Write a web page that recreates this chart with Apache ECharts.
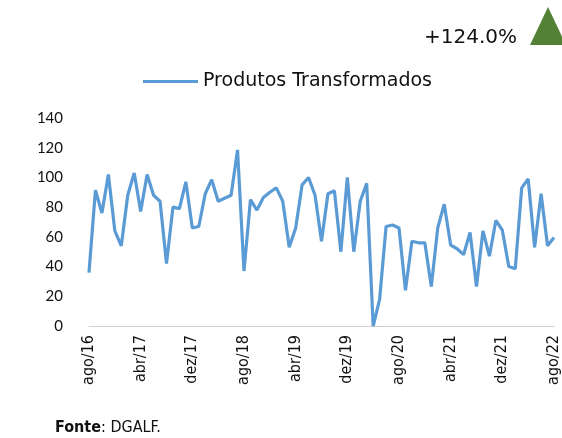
<!DOCTYPE html>
<html>
<head>
<meta charset="utf-8">
<style>html,body{margin:0;padding:0;background:#fff;}#c{width:562px;height:438px;}</style>
<script src="https://cdn.jsdelivr.net/npm/echarts@6/dist/echarts.min.js"></script>
</head>
<body>
<div id="c"></div>
<script>
const monthNames = ['jan','fev','mar','abr','mai','jun','jul','ago','set','out','nov','dez'];
const startMonth = 7; // ago
const startYear = 16;
const seriesName = 'Produtos Transformados';
const values = [
  36, 91.5, 76, 102, 64, 54, 88, 103, 77, 102,
  88, 84, 42, 80, 79, 97, 66, 67, 89, 98.5,
  84, 86, 88, 118.5, 37, 85, 78, 86.5, 90, 93,
  84, 53, 66, 95, 100, 88, 57, 89, 91, 50,
  100, 50, 84, 96, 0, 18, 67, 68, 66, 24,
  57, 56, 56, 26.5, 66, 82, 54.5, 52, 48, 63,
  26.5, 64, 47, 71, 64.5, 40, 38.5, 93, 99, 53,
  89, 54, 59.5
];
const yTicks = [0, 20, 40, 60, 80, 100, 120, 140];
const changeLabel = '+124.0%';
const sourceLabel = 'DGALF.';

const categories = values.map((v, i) => {
  const m = (startMonth + i) % 12;
  const y = startYear + Math.floor((startMonth + i) / 12);
  return monthNames[m] + '/' + y;
});

const chart = echarts.init(document.getElementById('c'), null, {renderer: 'canvas'});
chart.setOption({
  animation: false,
  backgroundColor: '#fff',
  grid: {left: 89, right: 6, top: 118, bottom: 112, containLabel: false},
  legend: {
    data: [{name: seriesName, icon: 'rect'}],
    left: 138, top: 67,
    itemWidth: 55, itemHeight: 3, itemGap: 6,
    textStyle: {fontFamily: 'DejaVu Sans', fontSize: 19, color: '#111'}
  },
  xAxis: {
    type: 'category',
    data: categories,
    boundaryGap: false,
    axisLine: {lineStyle: {color: '#d0d0d0', width: 1}},
    axisTick: {show: false},
    axisLabel: {
      interval: 7, rotate: 90, margin: 9,
      fontFamily: "'Liberation Sans Narrow', 'DejaVu Sans Condensed', sans-serif",
      fontSize: 16, color: '#111'
    },
    splitLine: {show: false}
  },
  yAxis: {
    type: 'value',
    min: yTicks[0], max: yTicks[yTicks.length - 1], interval: yTicks[1] - yTicks[0],
    axisLine: {show: false},
    axisTick: {show: false},
    splitLine: {show: false},
    axisLabel: {margin: 26, fontFamily: 'Lato', fontSize: 15, color: '#111'}
  },
  series: [{
    name: seriesName,
    type: 'line',
    data: values,
    showSymbol: false,
    symbol: 'none',
    lineStyle: {color: '#5B9BD5', width: 3.2},
    itemStyle: {color: '#5B9BD5'}
  }],
  graphic: [
    {type: 'text', left: 424, top: 28, style: {text: changeLabel, font: "20px 'DejaVu Sans'", fill: '#111'}},
    {type: 'polygon', shape: {points: [[530, 45], [548, 7], [566, 45]]}, style: {fill: '#538135'}},
    {type: 'text', left: 55, top: 420, style: {
      text: '{b|Fonte}: ' + sourceLabel,
      font: "16px 'Liberation Sans Narrow', 'DejaVu Sans Condensed', sans-serif",
      fill: '#111',
      rich: {b: {fontWeight: 'bold', fontSize: 16, fontFamily: "'Liberation Sans Narrow', 'DejaVu Sans Condensed', sans-serif"}}
    }}
  ]
});
</script>
</body>
</html>
